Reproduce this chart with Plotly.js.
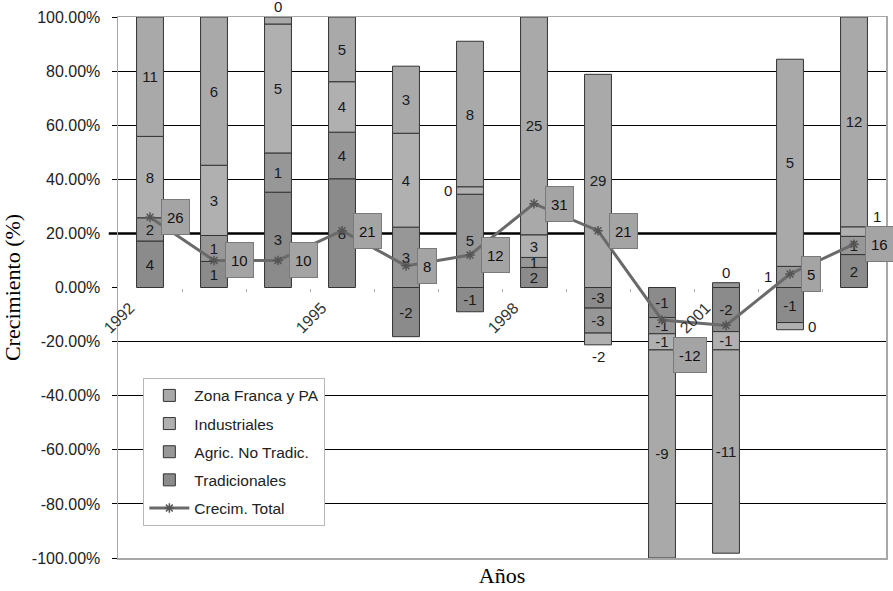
<!DOCTYPE html>
<html>
<head>
<meta charset="utf-8">
<script src="https://cdn.plot.ly/plotly-3.0.1.min.js"></script>
<style>html,body{margin:0;padding:0;background:#fff;}#chart{width:893px;height:591px;}</style>
</head>
<body>
<div id="chart"></div>
<script>
// ---- data (contributions to growth, percentage points) ----
const years = [1992, 1993, 1994, 1995, 1996, 1997, 1998, 1999, 2000, 2001, 2002, 2003];
const tradicionales = [4.4, 1.0, 3.4, 8.4, -2.2, -1.3, 2.3, -2.8, -1.3, -2.3, -0.88, 1.9];
const agricNoTradic = [2.2, 1.0, 1.4, 3.6, 2.7, 5.0, 1.15, -3.4, -0.7, 0.25, 0.53, 1.05];
const industriales = [7.7, 2.7, 4.6, 3.9, 4.2, 0.4, 2.6, -1.6, -0.7, -0.95, -0.18, 0.55];
const zonaFranca = [11.3, 5.7, 0.25, 5.0, 3.0, 7.8, 25.0, 29.0, -9.0, -10.6, 5.2, 12.1];
const crecimTotal = [26, 10, 10, 21, 8, 12, 31, 21, -12, -14, 5, 16];
const crecimLabelShown = [true, true, true, true, true, true, true, true, true, false, true, true];
const seriesNames = ['Tradicionales', 'Agric. No Tradic.', 'Industriales', 'Zona Franca y PA'];
const lineName = 'Crecim. Total';
const xTickYears = [1992, 1995, 1998, 2001];
const yTickLabels = ['-100.00%', '-80.00%', '-60.00%', '-40.00%', '-20.00%', '0.00%', '20.00%', '40.00%', '60.00%', '80.00%', '100.00%'];

// ---- styles / placement ----
const seriesData = [tradicionales, agricNoTradic, industriales, zonaFranca];
const seriesColors = ['#8b8b8b', '#979797', '#b0b0b0', '#a9a9a9'];
const legendRanks = [4, 3, 2, 1];
const barWidth = 0.42;
const sans = 'Liberation Sans, Arial, sans-serif';
const serif = 'Liberation Serif, Times New Roman, serif';
// labels of small segments that sit outside the bar: [seriesIndex, year, placement]
const movedLabels = [
  [3, 1994, 'above'], [2, 1997, 'left'], [2, 1999, 'below'], [1, 2001, 'above'],
  [1, 2002, 'left'], [2, 2002, 'right'], [2, 2003, 'aboveright']
];
const lineLabelYShift = {2000: -35};

// ---- derived ----
const absSum = years.map((_, i) => seriesData.reduce((s, arr) => s + Math.abs(arr[i]), 0));
const shares = seriesData.map(arr => arr.map((v, i) => v / absSum[i]));
const lab = v => { const r = Math.sign(v) * Math.round(Math.abs(v)); return r === 0 ? '0' : String(r); };
const isMoved = (s, y) => movedLabels.some(m => m[0] === s && m[1] === y);

// stack extents
const posBase = years.map(() => 0), negBase = years.map(() => 0);
const extents = seriesData.map(() => []);
shares.forEach((arr, s) => {
  arr.forEach((v, i) => {
    if (v >= 0) { extents[s][i] = [posBase[i], posBase[i] + v]; posBase[i] += v; }
    else { extents[s][i] = [negBase[i] + v, negBase[i]]; negBase[i] += v; }
  });
});

const traces = seriesData.map((arr, s) => ({
  type: 'bar',
  name: seriesNames[s],
  legendrank: legendRanks[s],
  legendgroup: 'g' + s,
  x: years,
  y: shares[s],
  width: barWidth,
  text: arr.map((v, i) => isMoved(s, years[i]) ? '' : lab(v)),
  textposition: 'inside',
  insidetextanchor: 'middle',
  textangle: 0,
  constraintext: 'none',
  insidetextfont: {family: sans, size: 15, color: '#1a1a1a'},
  marker: {color: seriesColors[s], line: {color: '#333333', width: 1}},
  hoverinfo: 'skip'
}));

traces.push({
  type: 'scatter',
  mode: 'lines+markers',
  name: lineName,
  legendrank: 5,
  legendgroup: 'g4',
  x: years,
  y: crecimTotal.map(v => v / 100),
  line: {color: '#6a6a6a', width: 3},
  marker: {symbol: 'asterisk-open', size: 8, color: '#555', line: {color: '#555', width: 1.5}},
  hoverinfo: 'skip'
});

// carrier (no visible marks) so that the category axis drawn at y = 0 is rendered
traces.push({
  type: 'scatter', mode: 'markers', xaxis: 'x2', yaxis: 'y',
  x: xTickYears, y: xTickYears.map(() => null),
  showlegend: false, hoverinfo: 'skip', marker: {opacity: 0}
});

const annotations = [];
movedLabels.forEach(([s, y, place]) => {
  const i = years.indexOf(y);
  const [lo, hi] = extents[s][i];
  const mid = (lo + hi) / 2;
  const a = {xref: 'x', yref: 'y', showarrow: false, text: lab(seriesData[s][i]),
    font: {family: sans, size: 15, color: '#1a1a1a'}};
  if (place === 'above') Object.assign(a, {x: y, y: hi, yanchor: 'bottom', xanchor: 'center', yshift: 0});
  else if (place === 'below') Object.assign(a, {x: y, y: lo, yanchor: 'top', xanchor: 'center', yshift: -1});
  else if (place === 'left') Object.assign(a, {x: y - barWidth / 2, y: mid, xanchor: 'right', yanchor: 'middle', xshift: -3});
  else if (place === 'right') Object.assign(a, {x: y + barWidth / 2, y: mid, xanchor: 'left', yanchor: 'middle', xshift: 3});
  else if (place === 'aboveright') Object.assign(a, {x: y + barWidth / 2, y: hi, xanchor: 'left', yanchor: 'bottom', xshift: 4});
  annotations.push(a);
});
years.forEach((y, i) => {
  if (!crecimLabelShown[i]) return;
  annotations.push({
    xref: 'x', yref: 'y', x: y, y: crecimTotal[i] / 100, showarrow: false,
    text: String(crecimTotal[i]), xanchor: 'left', yanchor: 'middle', xshift: 11,
    yshift: lineLabelYShift[y] || 0,
    bgcolor: '#a4a4a4', bordercolor: '#7a7a7a', borderwidth: 1, borderpad: 5, height: 24,
    font: {family: sans, size: 15, color: '#111'}
  });
});

const xRange = [years[0] - 0.5, years[years.length - 1] + 0.5];
const layout = {
  width: 893, height: 591,
  margin: {l: 118, r: 7, t: 17, b: 33},
  paper_bgcolor: '#fff', plot_bgcolor: '#fff',
  barmode: 'relative',
  showlegend: true,
  legend: {
    x: 0.033, y: 0.333, xanchor: 'left', yanchor: 'top',
    bgcolor: '#fff', bordercolor: '#b8b8b8', borderwidth: 1,
    font: {family: sans, size: 15.5, color: '#222'},
    traceorder: 'grouped', tracegroupgap: 5, itemwidth: 40
  },
  xaxis: {
    range: xRange,
    showticklabels: false, ticks: '', showgrid: false, zeroline: false,
    showline: true, mirror: true, linecolor: '#a8a8a8', linewidth: 1.5,
    title: {text: 'Años', font: {family: serif, size: 22, color: '#000'}, standoff: 9}
  },
  xaxis2: {
    overlaying: 'x', anchor: 'free', position: 0.5, side: 'bottom',
    range: xRange,
    tickmode: 'array', tickvals: xTickYears, ticktext: xTickYears.map(String),
    tickangle: -45, ticks: '', showgrid: false, zeroline: false, showline: false,
    ticklabelshift: -20, ticklabelstandoff: 7,
    tickfont: {family: sans, size: 16, color: '#333'},
    minor: {tickmode: 'array', tickvals: years.slice(0, -1).map(y => y + 0.5), ticks: 'outside', ticklen: 3, tickcolor: '#aaa', showgrid: false}
  },
  yaxis: {
    range: [-1, 1],
    tickmode: 'array', tickvals: yTickLabels.map(t => parseFloat(t) / 100), ticktext: yTickLabels,
    showgrid: true, gridcolor: '#000', gridwidth: 1,
    zeroline: true, zerolinecolor: '#fff', zerolinewidth: 2,
    showline: true, mirror: true, linecolor: '#a8a8a8', linewidth: 1.5,
    ticks: 'outside', ticklen: 5, tickcolor: '#000', ticklabelstandoff: 8,
    tickfont: {family: sans, size: 16, color: '#222'},
    title: {text: 'Crecimiento (%)', font: {family: serif, size: 22, color: '#000'}, standoff: 6}
  },
  shapes: [{type: 'line', xref: 'paper', x0: -0.012, x1: 1, yref: 'y', y0: 0.2, y1: 0.2,
    line: {color: '#000', width: 2.5}, layer: 'below'}],
  annotations: annotations
};

Plotly.newPlot('chart', traces, layout, {displayModeBar: false, staticPlot: true});
</script>
</body>
</html>
